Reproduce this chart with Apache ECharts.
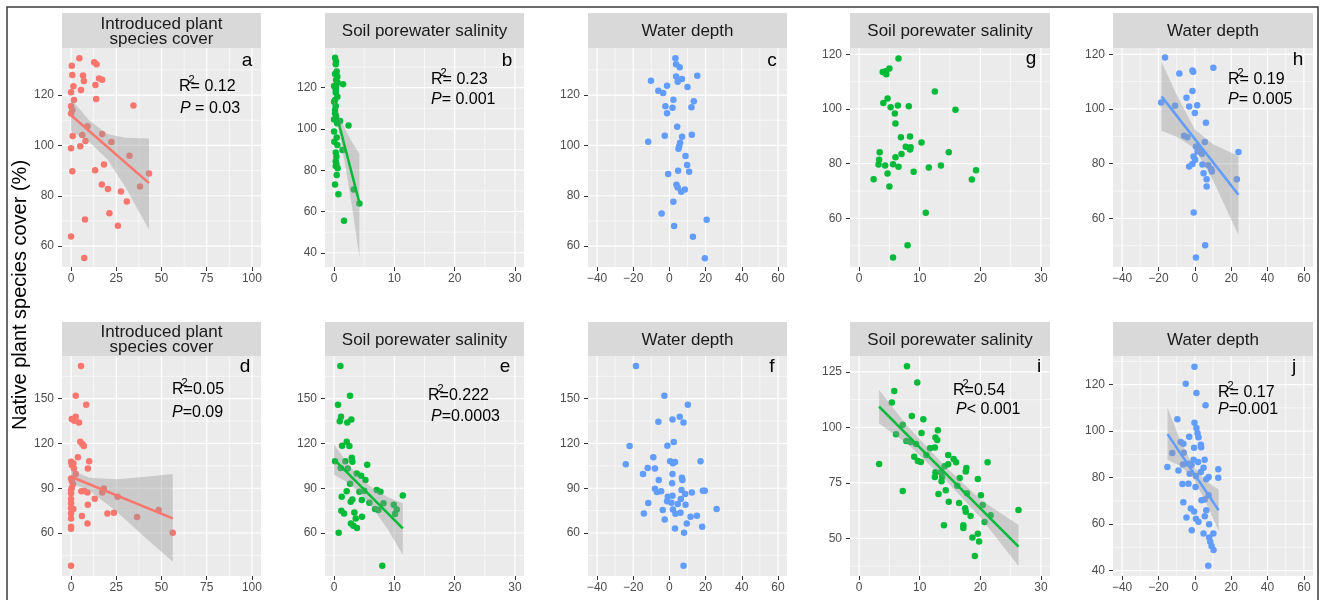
<!DOCTYPE html>
<html>
<head>
<meta charset="utf-8">
<script src="https://cdn.jsdelivr.net/npm/echarts@6/dist/echarts.min.js"></script>
<style>
  html, body { margin: 0; padding: 0; background: #fff; }
  #chart { width: 1320px; height: 600px; }
</style>
</head>
<body>
<div id="chart"></div>
<script>
// ---------- data ----------
const stripIntro = "Introduced plant\nspecies cover";
const stripSal = "Soil porewater salinity";
const stripDepth = "Water depth";

const xTicksIntro = [0, 25, 50, 75, 100];
const xTicksSal = [0, 10, 20, 30];
const xTicksDepth = [-40, -20, 0, 20, 40, 60];
const yTicksTop = [60, 80, 100, 120];
const yTicksB = [40, 60, 80, 100, 120];
const yTicksMid = [60, 90, 120, 150];
const yTicksI = [50, 75, 100, 125];
const yTicksJ = [40, 60, 80, 100, 120];

// a: introduced cover vs native cover
const ptsA = [[4.6,134.6],[0.4,131.6],[12.8,133.0],[14.1,132.2],[0.7,128.0],[6.6,127.8],[7.1,125.6],[15.5,126.6],[17.2,126.1],[1.3,123.5],[5.5,122.0],[13.5,124.0],[0.0,121.1],[1.6,118.0],[13.9,118.4],[0.0,115.6],[0.7,114.0],[0.0,112.7],[34.5,115.9],[9.1,107.6],[0.9,103.7],[6.2,104.1],[8.0,101.8],[5.1,99.7],[0.0,98.9],[17.2,104.5],[22.3,101.4],[32.3,95.9],[18.2,92.4],[0.7,89.7],[13.3,90.1],[43.1,88.8],[17.0,84.5],[20.4,82.7],[38.1,83.7],[27.6,81.7],[30.8,77.7],[21.2,73.1],[7.7,70.6],[25.9,68.1],[0.0,63.8],[7.3,55.3]];
const fitA = [[0,112],[43.1,85]];
const bandAUp = [[0,118.3],[10,110],[20,104.5],[30,103],[43.1,102.7]];
const bandALo = [[0,105.6],[10,101.5],[20,94.5],[30,83.5],[43.1,66.5]];

// b: salinity
const ptsB = [[0.17,134.5],[0.33,132.6],[0.28,131.3],[0.44,127.8],[0.17,126.6],[0.55,125.3],[0.33,123.7],[0.6,122.4],[0.0,120.8],[1.5,121.6],[0.33,120.2],[0.28,119.2],[0.28,117.7],[0.55,115.6],[0.17,114.0],[0.0,113.2],[0.28,111.1],[0.17,109.2],[0.33,106.2],[0.17,107.6],[0.0,104.6],[1.0,103.8],[0.5,102.7],[2.4,101.6],[0.0,98.7],[0.44,95.8],[0.05,93.8],[0.55,92.2],[1.4,89.8],[0.28,88.6],[0.39,86.5],[0.28,84.3],[0.39,83.0],[0.28,82.0],[0.6,80.9],[0.44,77.7],[0.17,73.1],[3.26,70.7],[0.72,68.3],[4.2,63.9],[1.66,55.5]];
const fitB = [[0,111.6],[4.2,64.2]];
const bandBUp = [[0,114.5],[1,105],[2,99],[3,93.5],[4.2,88]];
const bandBLo = [[0,108.5],[1,96],[2,80],[3,62],[4.2,38]];

// c: water depth
const ptsC = [[3.3,134.6],[3.7,132.2],[5.7,131.1],[3.7,127.4],[6.9,126.4],[4.6,125.3],[15.4,127.7],[-10.2,125.7],[-1.3,123.7],[10.0,123.2],[-6.1,121.7],[-3.5,120.8],[2.2,118.1],[13.5,117.5],[-2.2,115.6],[1.7,115.0],[12.2,115.2],[-1.3,112.8],[4.3,107.4],[-11.7,101.5],[-2.6,103.8],[7.0,103.4],[12.4,104.2],[5.9,101.1],[5.4,99.7],[5.0,98.7],[8.9,95.8],[9.8,92.2],[4.8,89.9],[10.9,89.5],[-0.7,88.6],[3.9,84.4],[4.6,83.3],[8.5,82.5],[6.5,81.6],[2.2,77.6],[-4.3,73.0],[20.6,70.5],[2.6,68.0],[13.0,63.7],[19.6,55.2]];

// d: introduced cover (second site)
const ptsD = [[5.5,171.9],[2.6,152.0],[8.4,146.0],[2.6,137.9],[0.4,136.4],[1.8,135.3],[4.4,134.1],[5.1,121.2],[6.2,119.6],[7.1,118.3],[3.8,110.7],[0.0,107.8],[1.3,106.7],[0.4,105.6],[10.0,108.0],[9.3,103.3],[1.6,103.3],[2.6,99.5],[0.0,96.6],[1.1,92.8],[0.4,94.8],[5.7,87.9],[7.3,88.1],[9.1,87.2],[18.1,89.9],[17.2,87.2],[25.7,84.3],[13.1,83.0],[9.3,79.0],[0.0,86.6],[0.0,82.8],[0.0,80.0],[0.0,76.6],[1.3,76.1],[0.0,73.1],[0.0,69.8],[0.0,64.2],[0.0,62.9],[6.0,71.4],[20.1,73.1],[23.7,73.6],[36.5,70.7],[48.4,75.4],[9.1,66.4],[56.2,60.2],[0.0,38.1],[0.4,90.3],[0.0,88.8]];
const fitD = [[0,97.7],[56.2,69.8]];
const bandDUp = [[0,102.2],[10,97],[25,96],[40,97.5],[56.2,99.5]];
const bandDLo = [[0,93.3],[10,88.5],[25,74.5],[40,58],[56.2,40.8]];

// e: salinity
const ptsE = [[1.05,171.9],[2.65,152.0],[0.66,146.0],[1.16,137.9],[0.94,134.8],[2.2,134.1],[2.87,136.1],[2.1,121.2],[2.54,118.3],[1.33,118.5],[2.93,110.5],[3.04,107.8],[0.17,108.0],[1.88,108.0],[1.1,103.5],[2.27,103.3],[3.76,99.9],[5.5,105.8],[4.5,98.4],[5.2,95.5],[2.65,93.0],[4.2,87.7],[2.1,87.9],[1.27,84.3],[5.0,88.3],[7.07,88.8],[7.7,87.7],[11.4,85.2],[3.04,82.5],[2.76,81.0],[4.6,82.1],[5.86,80.3],[8.2,79.9],[9.9,79.0],[6.8,76.1],[7.35,75.4],[10.4,75.8],[10.1,72.7],[1.2,74.9],[1.66,73.1],[3.37,73.8],[4.64,70.9],[3.6,69.8],[2.8,66.4],[3.2,64.9],[3.8,63.3],[0.77,60.2],[8.0,38.1]];
const fitE = [[0,109.3],[11.4,63.1]];
const bandEUp = [[0,119.5],[2,108.1],[4.3,96.9],[6.5,89.8],[9,83.8],[11.4,80]];
const bandELo = [[0,99.1],[2,94.3],[4.3,86.9],[6.5,76.2],[9,61.8],[11.4,45.5]];

// f: water depth
const ptsF = [[-18.5,171.9],[-2.8,152.0],[10.2,146.0],[5.7,137.9],[1.7,136.1],[7.8,134.1],[-6.1,134.6],[-22.0,118.3],[2.4,121.0],[-1.1,118.5],[-24.1,106.0],[-8.9,110.7],[-12.0,103.5],[-8.0,103.3],[0.4,108.0],[2.0,106.7],[3.1,107.6],[17.2,108.0],[-14.6,99.5],[1.7,99.5],[6.9,97.1],[7.2,95.5],[-5.9,95.5],[1.5,93.3],[-8.0,89.7],[-6.9,87.5],[-4.6,87.9],[6.7,88.8],[8.7,86.1],[12.4,87.2],[18.5,88.3],[19.6,88.3],[-0.9,84.3],[1.7,85.0],[6.3,82.8],[-1.3,81.2],[1.1,80.3],[-11.7,80.1],[4.6,79.4],[8.9,79.0],[-3.7,75.4],[1.9,75.8],[3.3,72.9],[6.1,73.6],[-14.1,73.1],[11.7,70.9],[15.2,71.6],[26.1,76.1],[-2.6,69.1],[9.6,66.4],[18.1,64.2],[3.1,63.1],[8.1,60.2],[7.8,38.1]];

// g: salinity
const ptsG = [[6.5,118.5],[3.9,113.5],[4.4,113.8],[5.0,114.8],[4.5,112.7],[12.5,106.4],[4.7,103.8],[4.0,102.2],[5.2,100.6],[6.4,101.3],[8.2,101.0],[15.9,99.7],[5.9,98.3],[6.0,94.7],[6.9,89.7],[8.4,89.9],[10.3,87.7],[7.7,86.2],[8.5,86.0],[8.4,85.2],[3.4,84.2],[14.8,84.2],[7.0,83.5],[6.0,82.3],[3.3,81.4],[3.2,79.7],[4.3,79.3],[5.6,79.8],[6.5,78.9],[13.5,79.3],[11.5,78.6],[9.0,77.0],[4.7,76.4],[19.3,77.6],[18.6,74.2],[2.4,74.3],[5.0,71.6],[11.0,62.0],[8.0,50.2],[5.6,45.7]];

// h: water depth
const ptsH = [[-16.4,118.8],[-8.5,113.0],[-1.3,114.1],[-0.9,113.6],[10.2,115.1],[-1.3,106.6],[-4.6,104.1],[-18.5,102.4],[-10.9,101.2],[-3.1,100.9],[1.3,101.4],[0.0,98.5],[6.1,95.0],[-5.9,90.2],[-4.1,89.7],[5.5,87.9],[0.6,86.3],[2.4,85.3],[1.5,84.4],[3.9,83.6],[24.0,84.3],[-0.7,82.6],[0.2,81.4],[-1.3,79.9],[-3.1,79.0],[4.2,79.7],[7.4,79.4],[9.0,78.0],[9.4,77.1],[4.8,76.5],[23.1,74.3],[6.5,74.3],[6.5,71.6],[-0.6,62.1],[5.7,50.2],[0.6,45.7]];
const fitH = [[-18.3,104.6],[24,68.6]];
const bandHUp = [[-18.3,117.2],[-10,105.2],[0,92.5],[10,87.1],[24,82.8]];
const bandHLo = [[-18.3,92.0],[-10,89.8],[0,85.5],[10,73.9],[24,53.9]];

// i: salinity
const ptsI = [[7.9,127.6],[9.6,120.3],[5.8,116.4],[5.4,111.2],[8.7,105.2],[10.6,103.7],[7.2,101.2],[13.0,98.7],[10.3,97.5],[6.1,96.9],[12.6,95.5],[12.9,94.3],[7.8,93.9],[8.5,93.4],[9.4,92.5],[11.7,90.6],[12.5,90.9],[11.1,87.6],[14.7,87.6],[9.1,86.8],[9.7,84.9],[10.2,84.4],[21.2,84.3],[3.3,83.5],[15.6,85.8],[16.0,84.3],[14.7,83.4],[14.1,82.5],[17.7,81.7],[17.6,80.1],[12.6,79.8],[13.5,79.8],[13.7,77.8],[12.5,77.6],[16.6,77.2],[19.6,76.7],[13.6,75.7],[16.2,73.7],[7.2,71.3],[14.3,71.7],[13.1,70.0],[17.8,70.3],[20.1,69.4],[14.8,66.5],[16.5,65.9],[20.4,65.0],[17.5,63.5],[17.6,62.0],[18.4,60.0],[21.7,60.4],[20.7,57.4],[26.3,62.8],[14.0,55.9],[17.2,55.9],[17.2,54.6],[18.7,50.4],[19.6,52.1],[19.8,48.6],[19.1,42.0]];
const fitI = [[3.3,109.4],[26.3,46.2]];
const bandIUp = [[3.3,116.9],[8,100.5],[14,83],[20,67.5],[26.3,56]];
const bandILo = [[3.3,101.8],[8,92.5],[14,77],[20,59.5],[26.3,37.5]];

// j: water depth
const ptsJ = [[-0.2,127.7],[-5.0,120.4],[0.9,116.4],[5.9,111.1],[-9.6,105.1],[-0.2,103.6],[0.9,101.3],[1.5,99.1],[2.0,97.4],[-3.1,97.6],[-7.8,95.3],[-6.3,94.6],[3.3,94.1],[3.5,93.1],[-0.4,92.9],[-12.4,90.6],[-6.1,90.7],[-0.7,87.7],[5.4,87.7],[1.8,86.7],[-6.5,85.6],[-3.5,86.0],[-1.8,85.4],[-15.1,84.6],[12.9,83.6],[4.8,84.3],[-9.0,83.1],[3.3,82.4],[-2.8,81.7],[0.6,80.7],[7.6,80.3],[12.9,80.0],[6.3,79.3],[0.4,76.0],[-6.8,77.3],[-3.5,77.4],[7.6,72.4],[3.7,70.3],[5.4,70.6],[-6.3,69.4],[-2.2,66.7],[-0.4,65.4],[6.3,66.0],[-4.6,62.9],[0.6,62.3],[2.0,61.0],[5.5,63.4],[7.9,60.0],[-1.7,57.4],[4.8,56.0],[10.2,56.0],[7.9,54.3],[8.5,52.4],[9.2,50.6],[10.3,48.9],[7.4,42.1]];
const fitJ = [[-15,98.7],[13.1,66.0]];
const bandJUp = [[-15,110],[-8,96],[-1,85],[6,78.5],[13.1,74.9]];
const bandJLo = [[-15,87.7],[-8,85],[-1,80],[6,69.5],[13.1,57.1]];

// ---------- layout ----------
const FONT = '"Liberation Sans", Arial, Helvetica, sans-serif';
const RED = "#F8766D", GREEN = "#00BA38", BLUE = "#619CFF";
const COLS = [62, 325, 588, 850, 1113];
const COLW = [199, 199, 199, 200, 200];
const ROWS = [
  { top: 48, h: 219, stripTop: 13, stripH: 35 },
  { top: 356, h: 220, stripTop: 322, stripH: 34 }
];
const TOPZ = 100; // annotations sit above the panels

const panels = [
  { tag: "a", row: 0, col: 0, strip: stripIntro, xr: [-5, 105], yr: [51.7, 138.7], xt: xTicksIntro, yt: yTicksTop, pts: ptsA, color: RED, fit: fitA, up: bandAUp, lo: bandALo, r2: "= 0.12", p: " = 0.03", r2At: [179, 87], pAt: [180, 109], tagAt: [247, 61] },
  { tag: "b", row: 0, col: 1, strip: stripSal, xr: [-1.5, 31.5], yr: [33.1, 139.2], xt: xTicksSal, yt: yTicksB, pts: ptsB, color: GREEN, fit: fitB, up: bandBUp, lo: bandBLo, r2: "= 0.23", p: "= 0.001", r2At: [431, 80], pAt: [431, 100], tagAt: [507, 61] },
  { tag: "c", row: 0, col: 2, strip: stripDepth, xr: [-45, 65], yr: [51.7, 138.7], xt: xTicksDepth, yt: yTicksTop, pts: ptsC, color: BLUE, tagAt: [772, 61] },
  { tag: "g", row: 0, col: 3, strip: stripSal, xr: [-1.5, 31.5], yr: [42.2, 122.3], xt: xTicksSal, yt: yTicksTop, pts: ptsG, color: GREEN, tagAt: [1031, 59] },
  { tag: "h", row: 0, col: 4, strip: stripDepth, xr: [-45, 65], yr: [42.2, 122.3], xt: xTicksDepth, yt: yTicksTop, pts: ptsH, color: BLUE, fit: fitH, up: bandHUp, lo: bandHLo, r2: "= 0.19", p: "= 0.005", r2At: [1228, 80], pAt: [1228, 100], tagAt: [1298, 60] },
  { tag: "d", row: 1, col: 0, strip: stripIntro, xr: [-5, 105], yr: [31.2, 178.6], xt: xTicksIntro, yt: yTicksMid, pts: ptsD, color: RED, fit: fitD, up: bandDUp, lo: bandDLo, r2: "=0.05", p: "=0.09", r2At: [172, 390], pAt: [172, 413], tagAt: [245, 367] },
  { tag: "e", row: 1, col: 1, strip: stripSal, xr: [-1.5, 31.5], yr: [31.2, 178.6], xt: xTicksSal, yt: yTicksMid, pts: ptsE, color: GREEN, fit: fitE, up: bandEUp, lo: bandELo, r2: "=0.222", p: "=0.0003", r2At: [428, 396], pAt: [431, 417], tagAt: [505, 367] },
  { tag: "f", row: 1, col: 2, strip: stripDepth, xr: [-45, 65], yr: [31.2, 178.6], xt: xTicksDepth, yt: yTicksMid, pts: ptsF, color: BLUE, tagAt: [772, 367] },
  { tag: "i", row: 1, col: 3, strip: stripSal, xr: [-1.5, 31.5], yr: [33, 132.2], xt: xTicksSal, yt: yTicksI, pts: ptsI, color: GREEN, fit: fitI, up: bandIUp, lo: bandILo, r2: "=0.54", p: "< 0.001", r2At: [953, 391], pAt: [956, 410], tagAt: [1039, 367] },
  { tag: "j", row: 1, col: 4, strip: stripDepth, xr: [-45, 65], yr: [37.7, 132.3], xt: xTicksDepth, yt: yTicksJ, pts: ptsJ, color: BLUE, fit: fitJ, up: bandJUp, lo: bandJLo, r2: "= 0.17", p: "=0.001", r2At: [1218, 393], pAt: [1218, 410], tagAt: [1294, 367] }
];

// major + minor gridline values (minor half way between majors, like ggplot)
function gridValues(p) {
  const items = [];
  const add = (ticks, range, dim) => {
    const step = ticks[1] - ticks[0];
    ticks.forEach(v => { if (v >= range[0] && v <= range[1]) items.push([v, dim, 0]); });
    for (let k = -1; k < ticks.length; k++) {
      const v = ticks[0] + step * (k + 0.5);
      if (v >= range[0] && v <= range[1]) items.push([v, dim, 1]);
    }
  };
  add(p.xt, p.xr, 0);
  add(p.yt, p.yr, 1);
  return items;
}

const fmt = v => (v < 0 ? "\u2212" + Math.abs(v) : String(v));

const grid = [], xAxis = [], yAxis = [], series = [], graphic = [];

panels.forEach((p, i) => {
  const r = ROWS[p.row];
  const left = COLS[p.col], width = COLW[p.col];
  grid.push({ left: left, top: r.top, width: width, height: r.h, show: true, backgroundColor: "#EBEBEB", borderWidth: 0 });
  xAxis.push({
    type: "value", gridIndex: i, min: p.xr[0], max: p.xr[1], position: "bottom",
    axisLine: { show: false, onZero: false },
    axisTick: { show: true, length: 4, customValues: p.xt, lineStyle: { color: "#333333", width: 1 } },
    axisLabel: { customValues: p.xt, color: "#4D4D4D", fontSize: 12, margin: 6, fontFamily: FONT, formatter: fmt },
    splitLine: { show: false }
  });
  yAxis.push({
    type: "value", gridIndex: i, min: p.yr[0], max: p.yr[1], position: "left",
    axisLine: { show: false, onZero: false },
    axisTick: { show: true, length: 4, customValues: p.yt, lineStyle: { color: "#333333", width: 1 } },
    axisLabel: { customValues: p.yt, color: "#4D4D4D", fontSize: 12, margin: 8, fontFamily: FONT },
    splitLine: { show: false }
  });

  // grid lines
  series.push({
    type: "custom", xAxisIndex: i, yAxisIndex: i, z: 1, silent: true,
    data: gridValues(p),
    renderItem: (params, api) => {
      const v = api.value(0), dim = api.value(1), minor = api.value(2);
      const cs = params.coordSys;
      const lw = minor ? 0.6 : 1.2;
      if (dim === 0) {
        const px = api.coord([v, p.yr[0]])[0];
        return { type: "line", shape: { x1: px, y1: cs.y, x2: px, y2: cs.y + cs.height }, style: { stroke: "#FFFFFF", lineWidth: lw } };
      }
      const py = api.coord([p.xr[0], v])[1];
      return { type: "line", shape: { x1: cs.x, y1: py, x2: cs.x + cs.width, y2: py }, style: { stroke: "#FFFFFF", lineWidth: lw } };
    }
  });

  // points
  series.push({
    type: "scatter", xAxisIndex: i, yAxisIndex: i, z: 3, silent: true,
    data: p.pts, symbolSize: 6.5,
    itemStyle: { color: p.color, opacity: 1 }
  });

  if (p.fit) {
    const band = p.up.concat(p.lo.slice().reverse());
    series.push({
      type: "custom", xAxisIndex: i, yAxisIndex: i, z: 4, silent: true,
      data: band,
      renderItem: (params, api) => {
        if (params.dataIndex !== 0) return null;
        return {
          type: "polygon",
          shape: { points: band.map(d => api.coord(d)) },
          style: { fill: "rgba(153,153,153,0.4)", stroke: null }
        };
      }
    });
    series.push({
      type: "line", xAxisIndex: i, yAxisIndex: i, z: 5, silent: true,
      data: p.fit, symbol: "none",
      lineStyle: { color: p.color, width: 2.5 }
    });

    // R^2 and P annotations
    const [rx, ry] = p.r2At;
    graphic.push(
      { type: "text", z: TOPZ, x: rx, y: ry, style: { text: "R", font: "16px " + FONT, fill: "#000", verticalAlign: "middle" } },
      { type: "text", z: TOPZ, x: rx + 9.5, y: ry - 7, style: { text: "2", font: "11px " + FONT, fill: "#000", verticalAlign: "middle" } },
      { type: "text", z: TOPZ, x: rx + 11.6, y: ry, style: { text: p.r2, font: "16px " + FONT, fill: "#000", verticalAlign: "middle" } }
    );
    const [px, py] = p.pAt;
    graphic.push({
      type: "text", z: TOPZ, x: px, y: py,
      style: {
        text: "{i|P}{n|" + p.p + "}", verticalAlign: "middle",
        rich: {
          i: { fontStyle: "italic", fontSize: 16, fontFamily: FONT, fill: "#000", color: "#000" },
          n: { fontSize: 16, fontFamily: FONT, fill: "#000", color: "#000" }
        }
      }
    });
  }

  // facet strip
  graphic.push(
    { type: "rect", z: TOPZ, shape: { x: left, y: r.stripTop, width: width, height: r.stripH }, style: { fill: "#D9D9D9" } },
    { type: "text", z: TOPZ + 1, x: left + width / 2, y: r.stripTop + r.stripH / 2 + 1,
      style: { text: p.strip, font: "17px " + FONT, fill: "#1A1A1A", align: "center", verticalAlign: "middle", lineHeight: 15 } }
  );
  // panel letter
  graphic.push({ type: "text", z: TOPZ, x: p.tagAt[0], y: p.tagAt[1],
    style: { text: p.tag, font: "19px " + FONT, fill: "#000", align: "center", verticalAlign: "middle" } });
});

// shared y title
graphic.push({ type: "text", z: TOPZ, x: 20, y: 295, rotation: Math.PI / 2,
  style: { text: "Native plant species cover (%)", font: "20px " + FONT, fill: "#000", align: "center", verticalAlign: "middle" } });
// outer frame (no bottom edge in the figure)
graphic.push({ type: "polyline", z: TOPZ, silent: true,
  shape: { points: [[7, 612], [7, 7], [1318, 7], [1318, 612]] },
  style: { stroke: "#3A3A3A", lineWidth: 1.5, fill: null } });

const chart = echarts.init(document.getElementById("chart"), null, { renderer: "canvas" });
chart.setOption({
  animation: false,
  backgroundColor: "#FFFFFF",
  grid: grid,
  xAxis: xAxis,
  yAxis: yAxis,
  series: series,
  graphic: graphic
});
</script>
</body>
</html>
